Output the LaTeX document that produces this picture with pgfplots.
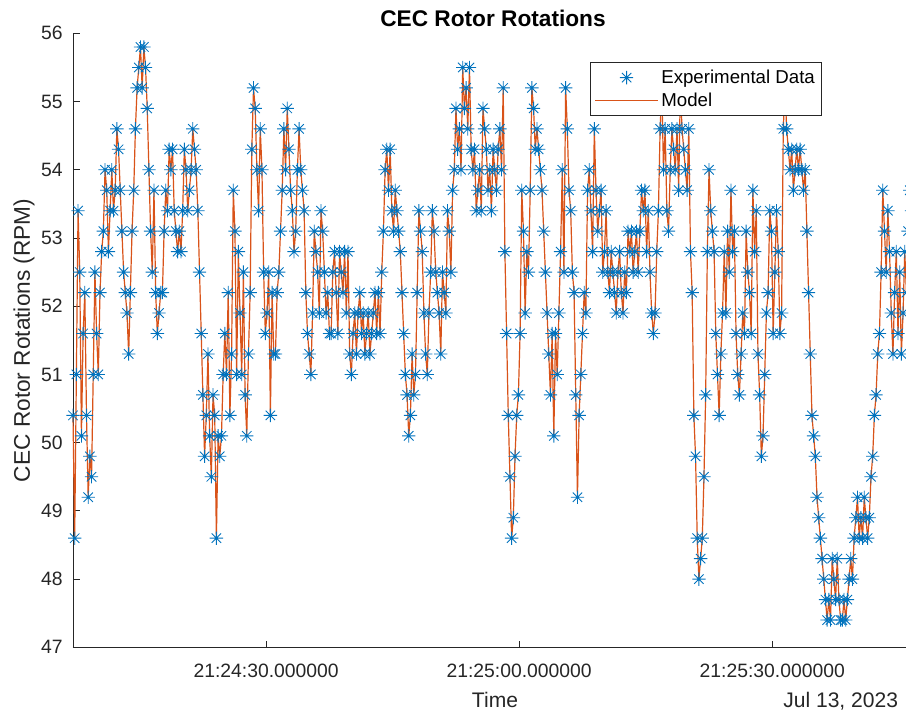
\documentclass[border=0pt]{standalone}
\usepackage{pgfplots}
\pgfplotsset{compat=1.18}
\usepackage{pgfplotstable}
\usepackage{fontspec}
\setmainfont{Liberation Sans}
\definecolor{mblue}{rgb}{0,0.447,0.741}
\definecolor{morange}{rgb}{0.85,0.325,0.098}
\definecolor{mgray}{rgb}{0.15,0.15,0.15}
\pgfdeclareplotmark{mstar}{%
  \pgfpathmoveto{\pgfqpoint{-\pgfplotmarksize}{0pt}}\pgfpathlineto{\pgfqpoint{\pgfplotmarksize}{0pt}}%
  \pgfpathmoveto{\pgfqpoint{0pt}{-\pgfplotmarksize}}\pgfpathlineto{\pgfqpoint{0pt}{\pgfplotmarksize}}%
  \pgfpathmoveto{\pgfqpoint{-0.7071\pgfplotmarksize}{-0.7071\pgfplotmarksize}}\pgfpathlineto{\pgfqpoint{0.7071\pgfplotmarksize}{0.7071\pgfplotmarksize}}%
  \pgfpathmoveto{\pgfqpoint{-0.7071\pgfplotmarksize}{0.7071\pgfplotmarksize}}\pgfpathlineto{\pgfqpoint{0.7071\pgfplotmarksize}{-0.7071\pgfplotmarksize}}%
  \pgfusepathqstroke}
\pgfplotsset{
  legmark/.style={legend image code/.code={\draw[mark repeat=2,mark phase=2,##1] plot coordinates {(0cm,0cm) (0.83cm,0cm) (1.66cm,0cm)};}},
  legline/.style={legend image code/.code={\draw[##1] (0cm,0cm) -- (1.66cm,0cm);}},
}
% RPM samples, one every 0.2 s starting at 21:24:07.11
\pgfplotstableread[row sep=\\]{v\\
50.4\\ 48.6\\ 51.0\\ 53.4\\ 52.5\\ 50.1\\ 51.6\\ 52.2\\ 50.4\\ 49.2\\ 49.8\\ 49.5\\ 51.0\\ 52.5\\ 51.6\\
51.0\\ 52.2\\ 52.8\\ 53.1\\ 54.0\\ 53.7\\ 52.8\\ 53.4\\ 54.0\\ 53.4\\ 53.7\\ 54.6\\ 54.3\\ 53.7\\ 53.1\\
52.5\\ 52.2\\ 51.9\\ 51.3\\ 52.2\\ 53.1\\ 53.7\\ 54.6\\ 55.2\\ 55.5\\ 55.8\\ 55.2\\ 55.8\\ 55.5\\ 54.9\\
54.0\\ 53.1\\ 52.5\\ 53.7\\ 52.2\\ 51.6\\ 51.9\\ 52.2\\ 52.2\\ 53.1\\ 53.7\\ 53.4\\ 54.3\\ 54.0\\ 54.3\\
53.4\\ 53.1\\ 52.8\\ 53.1\\ 52.8\\ 53.4\\ 54.3\\ 54.0\\ 53.4\\ 53.7\\ 54.0\\ 54.6\\ 54.3\\ 54.0\\ 53.4\\
52.5\\ 51.6\\ 50.7\\ 49.8\\ 50.4\\ 51.3\\ 50.1\\ 49.5\\ 50.7\\ 50.4\\ 48.6\\ 50.1\\ 49.8\\ 50.1\\ 51.0\\
51.6\\ 51.0\\ 52.2\\ 50.4\\ 51.3\\ 53.7\\ 53.1\\ 51.0\\ 52.8\\ 51.9\\ 51.0\\ 52.5\\ 50.7\\ 50.1\\ 51.3\\
52.2\\ 54.3\\ 55.2\\ 54.9\\ 54.0\\ 53.4\\ 54.6\\ 54.0\\ 52.5\\ 51.6\\ 51.9\\ 52.5\\ 50.4\\ 52.2\\ 51.3\\
51.3\\ 52.2\\ 52.5\\ 53.1\\ 53.7\\ 54.6\\ 54.0\\ 54.9\\ 54.3\\ 53.7\\ 53.4\\ 52.8\\ 53.1\\ 54.0\\ 54.6\\
54.0\\ 53.7\\ 53.4\\ 52.2\\ 51.6\\ 51.3\\ 51.0\\ 51.9\\ 53.1\\ 52.8\\ 52.5\\ 51.9\\ 53.4\\ 53.1\\ 52.5\\
51.9\\ 52.2\\ 51.6\\ 51.6\\ 52.5\\ 52.8\\ 52.2\\ 51.6\\ 52.8\\ 52.5\\ 52.2\\ 52.8\\ 51.9\\ 52.8\\ 51.3\\
51.0\\ 51.6\\ 51.9\\ 51.3\\ 51.9\\ 52.2\\ 51.6\\ 51.9\\ 51.3\\ 51.6\\ 51.9\\ 51.3\\ 51.6\\ 51.9\\ 52.2\\
51.6\\ 52.2\\ 51.6\\ 52.5\\ 53.1\\ 54.0\\ 54.3\\ 53.7\\ 54.3\\ 53.4\\ 53.1\\ 53.7\\ 53.4\\ 53.1\\ 52.8\\
52.2\\ 51.6\\ 51.0\\ 50.7\\ 50.1\\ 50.4\\ 51.3\\ 50.7\\ 51.0\\ 52.2\\ 53.4\\ 53.1\\ 52.8\\ 51.9\\ 51.3\\
51.0\\ 51.9\\ 52.5\\ 53.4\\ 53.1\\ 52.5\\ 52.2\\ 51.9\\ 51.3\\ 52.5\\ 52.2\\ 51.9\\ 53.4\\ 53.1\\ 52.5\\
53.7\\ 54.0\\ 54.9\\ 54.3\\ 54.6\\ 54.0\\ 55.5\\ 54.9\\ 55.2\\ 54.6\\ 55.5\\ 54.3\\ 54.0\\ 54.3\\ 53.4\\
53.7\\ 54.0\\ 53.4\\ 54.9\\ 54.6\\ 54.3\\ 53.7\\ 54.0\\ 53.4\\ 54.3\\ 54.0\\ 53.7\\ 54.3\\ 54.6\\ 54.0\\
55.2\\ 52.8\\ 51.6\\ 50.4\\ 49.5\\ 48.6\\ 48.9\\ 49.8\\ 50.4\\ 50.7\\ 51.6\\ 53.7\\ 53.1\\ 51.9\\ 52.8\\
52.5\\ 53.7\\ 55.2\\ 54.9\\ 54.3\\ 54.6\\ 54.3\\ 54.0\\ 53.7\\ 53.1\\ 52.5\\ 51.9\\ 51.3\\ 50.7\\ 51.6\\
50.1\\ 51.6\\ 51.0\\ 51.9\\ 52.8\\ 54.0\\ 52.5\\ 55.2\\ 54.6\\ 53.7\\ 53.4\\ 52.5\\ 52.2\\ 50.7\\ 49.2\\
50.4\\ 51.0\\ 51.6\\ 52.2\\ 51.9\\ 53.7\\ 54.0\\ 53.4\\ 52.8\\ 54.6\\ 53.7\\ 53.1\\ 53.4\\ 53.7\\ 52.5\\
52.8\\ 53.4\\ 52.5\\ 52.2\\ 52.8\\ 52.5\\ 52.2\\ 51.9\\ 52.5\\ 52.8\\ 52.2\\ 51.9\\ 52.5\\ 52.2\\ 53.1\\
52.8\\ 53.1\\ 52.5\\ 52.8\\ 53.1\\ 52.5\\ 53.1\\ 53.7\\ 53.4\\ 53.7\\ 52.8\\ 53.4\\ 52.5\\ 51.9\\ 51.6\\
51.9\\ 52.8\\ 53.4\\ 54.6\\ 55.2\\ 54.0\\ 54.6\\ 53.4\\ 53.1\\ 54.0\\ 54.6\\ 54.3\\ 54.0\\ 54.6\\ 53.7\\
55.2\\ 54.6\\ 54.3\\ 54.0\\ 53.7\\ 54.6\\ 52.8\\ 52.2\\ 50.4\\ 49.8\\ 48.6\\ 48.0\\ 48.3\\ 48.6\\ 49.5\\
50.7\\ 52.8\\ 54.0\\ 53.4\\ 53.1\\ 52.8\\ 51.6\\ 51.0\\ 50.4\\ 51.3\\ 51.9\\ 52.8\\ 51.9\\ 53.1\\ 52.5\\
53.7\\ 52.8\\ 53.1\\ 51.6\\ 51.0\\ 50.7\\ 51.3\\ 51.9\\ 51.6\\ 53.1\\ 52.5\\ 52.2\\ 51.6\\ 53.7\\ 52.8\\
53.4\\ 51.3\\ 50.7\\ 49.8\\ 50.1\\ 51.0\\ 51.9\\ 52.2\\ 53.4\\ 53.1\\ 51.6\\ 52.5\\ 53.4\\ 52.8\\ 51.6\\
51.9\\ 54.6\\ 55.2\\ 54.6\\ 54.3\\ 54.0\\ 54.3\\ 53.7\\ 54.0\\ 54.3\\ 54.0\\ 54.3\\ 54.0\\ 53.7\\ 54.0\\
53.1\\ 52.2\\ 51.3\\ 50.4\\ 50.1\\ 49.8\\ 49.2\\ 48.9\\ 48.6\\ 48.3\\ 48.0\\ 47.7\\ 47.4\\ 47.7\\ 47.4\\
48.3\\ 48.0\\ 47.7\\ 48.3\\ 47.7\\ 47.4\\ 47.4\\ 47.7\\ 47.4\\ 47.7\\ 48.0\\ 48.3\\ 48.0\\ 48.6\\ 48.9\\
49.2\\ 48.6\\ 48.9\\ 48.6\\ 49.2\\ 48.9\\ 48.6\\ 48.9\\ 49.5\\ 49.8\\ 50.4\\ 50.7\\ 51.3\\ 51.6\\ 52.5\\
53.7\\ 53.1\\ 52.5\\ 53.4\\ 52.8\\ 51.9\\ 51.3\\ 52.2\\ 52.8\\ 51.6\\ 52.5\\ 51.3\\ 51.9\\ 52.8\\ 52.2\\
53.1\\ 53.7\\ 53.4\\ 52.5\\ 52.8\\
}\rpmdata
\begin{document}
\begin{tikzpicture}
\begin{axis}[
  at={(0,0)}, anchor=south west,
  scale only axis, width=624.75pt, height=460.5pt,
  xmin=7.11, xmax=105.86, ymin=47, ymax=56,
  ytick={47,48,...,56},
  xtick={30,60,90},
  xticklabels={21:24:30.000000,21:25:00.000000,21:25:30.000000},
  axis x line*=bottom, axis y line*=left,
  tick align=inside, major tick length=5pt,
  axis line style={mgray, line width=0.6pt},
  tick style={mgray, line width=0.6pt},
  tick label style={font=\fontsize{14.5}{17}\selectfont, text=mgray},
  /pgf/number format/assume math mode=true,
  yticklabel style={inner sep=0pt, xshift=-7.5pt},
  xticklabel style={inner sep=0pt, yshift=-12pt},
  clip=false,
  legend style={at={(0.899,0.953)}, anchor=north east, draw=mgray, line width=0.5pt,
    fill=white, font=\fontsize{14}{16}\selectfont, text=black,
    inner xsep=3pt, inner ysep=3.5pt, row sep=1.5pt},
  legend cell align=left,
]
\addplot[only marks, mark=mstar, mark size=5pt, color=mblue, mark options={line width=0.65pt}, legmark]
  table[x expr=7.11+0.2*\coordindex, y=v] {\rpmdata};
\addlegendentry{Experimental Data}
\addplot[no marks, color=morange, line width=0.9pt, legline]
  table[x expr=7.11+0.2*\coordindex, y=v] {\rpmdata};
\addlegendentry{Model}
\end{axis}
\node[font=\fontsize{17}{20}\selectfont\bfseries, anchor=base] at (315pt,465.75pt) {CEC Rotor Rotations};
\node[font=\fontsize{15.8}{18}\selectfont, text=mgray, anchor=base] at (316.5pt,-44.8pt) {Time};
\node[font=\fontsize{15.8}{18}\selectfont, text=mgray, anchor=base east, inner sep=0pt] at (619pt,-44.8pt) {Jul 13, 2023};
\node[font=\fontsize{17}{20}\selectfont, text=mgray, anchor=base, rotate=90] at (-32.25pt,230.25pt) {CEC Rotor Rotations (RPM)};
\pgfresetboundingbox
\path[use as bounding box] (-54.75pt,-49.5pt) rectangle (624.75pt,485.5pt);
\end{tikzpicture}
\end{document}
